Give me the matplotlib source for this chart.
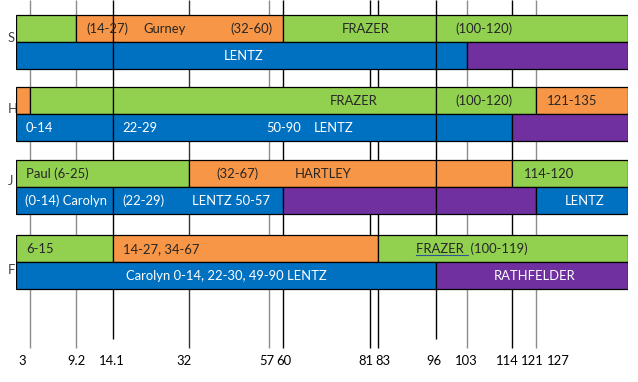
import numpy as np
import matplotlib
matplotlib.use("Agg")
import matplotlib.pyplot as plt
import matplotlib.transforms as mtransforms

plt.rcParams['font.family'] = ['Lato', 'DejaVu Sans']

# ---------------- data ----------------
GREEN, ORANGE, BLUE, PURPLE = '#92D050', '#F79646', '#0070C0', '#7030A0'

rows = ['S', 'H', 'J', 'F']

# segments: (start, end, colour) for the upper bar and the lower bar of each row
top_segments = [
    [(0, 9.2, GREEN), (9.2, 14.1, ORANGE), (14.1, 60, ORANGE), (60, 96, GREEN), (96, 135, GREEN)],
    [(0, 3, ORANGE), (3, 14.1, GREEN), (14.1, 96, GREEN), (96, 121, GREEN), (121, 135, ORANGE)],
    [(0, 32, GREEN), (32, 96, ORANGE), (96, 114, ORANGE), (114, 135, GREEN)],
    [(0, 14.1, GREEN), (14.1, 83, ORANGE), (83, 135, GREEN)],
]
bottom_segments = [
    [(0, 14.1, BLUE), (14.1, 96, BLUE), (96, 103, BLUE), (103, 135, PURPLE)],
    [(0, 14.1, BLUE), (14.1, 96, BLUE), (96, 114, BLUE), (114, 135, PURPLE)],
    [(0, 14.1, BLUE), (14.1, 60, BLUE), (60, 96, PURPLE), (96, 121, PURPLE), (121, 135, BLUE)],
    [(0, 96, BLUE), (96, 135, PURPLE)],
]

top_texts = [
    ["(14-27)", "Gurney", "(32-60)", "FRAZER", "(100-120)"],
    ["FRAZER", "(100-120)", "121-135"],
    ["Paul (6-25)", "(32-67)", "HARTLEY", "114-120"],
    ["6-15", "14-27, 34-67", "FRAZER  (100-119)"],
]
bottom_texts = [
    ["LENTZ"],
    ["0-14", "22-29", "50-90", "LENTZ"],
    ["(0-14) Carolyn", "(22-29)", "LENTZ 50-57", "LENTZ"],
    ["Carolyn 0-14, 22-30, 49-90 LENTZ", "RATHFELDER"],
]

tick_values = [3, 9.2, 14.1, 32, 57, 60, 81, 83, 96, 103, 114, 121, 127]
tick_labels = ["3", "9.2", "14.1", "32", "57", "60", "81", "83", "96", "103", "114", "121", "127"]
line_values = [3, 9.2, 14.1, 32, 57, 60, 81, 83, 96, 103, 114, 121]

# ---------------- layout ----------------
W, H = 638, 382
# piecewise axis (the drawing is not to scale)
anchor_vals = np.array([0, 3, 9.2, 14.1, 32, 57, 60, 81, 83, 96, 103, 114, 121, 127, 135])
anchor_px = np.array([16, 30, 76, 113, 189, 269, 283, 370, 378, 436, 467, 512, 536, 558, 628])

def fwd(v):
    return np.interp(v, anchor_vals, anchor_px)

def inv(p):
    return np.interp(p, anchor_px, anchor_vals)

row_top = [15, 87, 160, 235]
bar_h = 27
line_colors = ['#8c8c8c', '#8c8c8c', '#000000', '#333333', '#8c8c8c', '#000000',
               '#000000', '#000000', '#000000', '#8c8c8c', '#000000', '#8c8c8c']
line_ends = [348, 348, 339, 348, 348, 348, 348, 348, 339, 348, 348, 348]

top_text_px = [[86, 143, 230, 342, 455], [330, 455, 547], [26, 216, 295, 524], [26, 123, 416]]
bottom_text_px = [[224], [26, 122, 266, 314], [25, 122, 192, 565], [126, 494]]
row_label_y = [38, 109, 181, 270]
tick_dx = [-8, 0, -1, -5, -2, 1, -4, 5, -2, -1, -5, -4, 0]

fig = plt.figure(figsize=(W / 100, H / 100), dpi=100)
ax = fig.add_axes([16 / W, 0, (628 - 16) / W, 1])
ax.set_xscale('function', functions=(fwd, inv))
ax.set_xlim(0, 135)
ax.set_ylim(H, 0)
ax.axis('off')

# vertical reference lines (behind the bars)
for v, c, yend in zip(line_values, line_colors, line_ends):
    ax.vlines(v, 0, yend, color=c, lw=1.0, zorder=1)

# bars
for i in range(len(rows)):
    for (s, e, c) in top_segments[i]:
        ax.barh(row_top[i] + bar_h / 2, e - s, left=s, height=bar_h, color=c,
                edgecolor='black', linewidth=0.9, zorder=3)
    for (s, e, c) in bottom_segments[i]:
        ax.barh(row_top[i] + bar_h * 1.5, e - s, left=s, height=bar_h, color=c,
                edgecolor='black', linewidth=0.9, zorder=3)

# texts
xpix = mtransforms.blended_transform_factory(mtransforms.IdentityTransform(), ax.transData)
fs = 9.4
for i in range(len(rows)):
    for s, px in zip(top_texts[i], top_text_px[i]):
        ax.text(px, row_top[i] + bar_h / 2 + 0.5, s, transform=xpix, ha='left', va='center',
                fontsize=fs, color='#262626', zorder=5)
    for s, px in zip(bottom_texts[i], bottom_text_px[i]):
        ax.text(px, row_top[i] + bar_h * 1.5 + 0.5, s, transform=xpix, ha='left', va='center',
                fontsize=fs, color='white', zorder=5)
    ax.text(8, row_label_y[i], rows[i], transform=xpix, ha='left', va='center',
            fontsize=fs, color='#404040', zorder=2, clip_on=False)

# underline under FRAZER in last row
ax.plot([inv(416), inv(468)], [row_top[3] + 20, row_top[3] + 20],
        color='#2f5597', lw=0.8, zorder=6)

# tick labels
for v, lab, dx in zip(tick_values, tick_labels, tick_dx):
    ax.annotate(lab, xy=(v, 361), xytext=(dx * 0.72, 0), textcoords='offset points',
                ha='center', va='center', fontsize=fs, color='black')

fig.savefig('out.png', dpi=100)
